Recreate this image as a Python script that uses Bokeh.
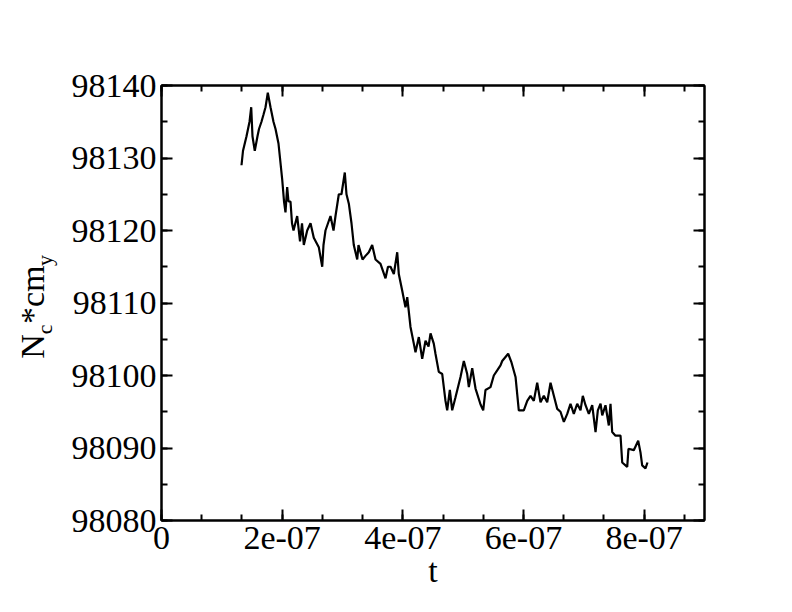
from bokeh.plotting import figure
from bokeh.layouts import row
from bokeh.models import Range1d, LinearAxis, SingleIntervalTicker, CustomJSTickFormatter
from bokeh.core.properties import value
from bokeh.embed import file_html
from bokeh.resources import INLINE

# ---- data ----
t = [1.326e-07, 1.351e-07, 1.409e-07, 1.459e-07, 1.487e-07, 1.508e-07, 1.546e-07, 1.591e-07, 1.616e-07, 1.657e-07,
     1.691e-07, 1.724e-07, 1.762e-07, 1.807e-07, 1.856e-07, 1.890e-07, 1.939e-07, 1.964e-07, 2.001e-07, 2.031e-07,
     2.055e-07, 2.083e-07, 2.105e-07, 2.138e-07, 2.163e-07, 2.188e-07, 2.249e-07, 2.296e-07, 2.329e-07, 2.359e-07,
     2.415e-07, 2.470e-07, 2.524e-07, 2.607e-07, 2.664e-07, 2.685e-07, 2.718e-07, 2.801e-07, 2.851e-07, 2.884e-07,
     2.939e-07, 2.983e-07, 3.038e-07, 3.066e-07, 3.105e-07, 3.149e-07, 3.187e-07, 3.244e-07, 3.265e-07, 3.332e-07,
     3.381e-07, 3.436e-07, 3.492e-07, 3.547e-07, 3.630e-07, 3.713e-07, 3.754e-07, 3.796e-07, 3.851e-07, 3.907e-07,
     3.933e-07, 3.990e-07, 4.044e-07, 4.073e-07, 4.127e-07, 4.182e-07, 4.210e-07, 4.265e-07, 4.321e-07, 4.376e-07,
     4.426e-07, 4.459e-07, 4.513e-07, 4.541e-07, 4.596e-07, 4.653e-07, 4.707e-07, 4.735e-07, 4.779e-07, 4.818e-07,
     4.873e-07, 4.956e-07, 5.011e-07, 5.067e-07, 5.094e-07, 5.150e-07, 5.205e-07, 5.288e-07, 5.332e-07, 5.370e-07,
     5.453e-07, 5.508e-07, 5.564e-07, 5.619e-07, 5.647e-07, 5.746e-07, 5.801e-07, 5.868e-07, 5.922e-07, 6.005e-07,
     6.062e-07, 6.116e-07, 6.171e-07, 6.227e-07, 6.282e-07, 6.337e-07, 6.393e-07, 6.448e-07, 6.503e-07, 6.559e-07,
     6.613e-07, 6.669e-07, 6.725e-07, 6.779e-07, 6.834e-07, 6.890e-07, 6.945e-07, 6.983e-07, 7.028e-07, 7.083e-07,
     7.139e-07, 7.194e-07, 7.232e-07, 7.277e-07, 7.305e-07, 7.359e-07, 7.414e-07, 7.442e-07, 7.470e-07, 7.525e-07,
     7.608e-07, 7.636e-07, 7.719e-07, 7.740e-07, 7.828e-07, 7.901e-07, 7.939e-07, 7.967e-07, 8.022e-07, 8.055e-07]

nc_cmy = [98129, 98131, 98133, 98135, 98137, 98133, 98131, 98133, 98134, 98135,
          98136, 98137, 98139, 98137, 98135, 98134, 98132, 98130, 98127, 98124,
          98122.5, 98126, 98124, 98124, 98121, 98120, 98122, 98118.5, 98121, 98118,
          98120, 98121, 98119, 98117.7, 98115, 98118, 98120, 98122, 98120, 98122,
          98125, 98125, 98128, 98125, 98123.7, 98121, 98118, 98116, 98118, 98116,
          98116.5, 98117, 98118, 98116, 98115.4, 98113.4, 98115, 98115, 98114, 98117,
          98114, 98111.7, 98109.4, 98110.8, 98106.7, 98104.4, 98103.2, 98105.3, 98102.3, 98104.8,
          98104, 98105.8, 98104.4, 98103, 98100.5, 98100.2, 98096.5, 98095.2, 98098, 98095.2,
          98097, 98099.8, 98102, 98100.2, 98098.4, 98101, 98098.2, 98096, 98095.2, 98098,
          98098.4, 98100, 98100.7, 98101.4, 98102, 98103, 98101.8, 98099.8, 98095.2, 98095.2,
          98096.5, 98097.2, 98096.5, 98099, 98096.3, 98097.2, 98096.3, 98099, 98097.2, 98095.4,
          98095, 98093.6, 98094.7, 98096.1, 98094.7, 98096.1, 98095.2, 98097.2, 98095.9, 98094.7,
          98095.9, 98092.2, 98095.2, 98096.1, 98094.5, 98095.9, 98093.1, 98096.1, 98092.2, 98091.7,
          98091.7, 98088, 98087.4, 98089.9, 98089.7, 98091, 98089.4, 98087.6, 98087.2, 98088]

x_label = "t"
y_label_parts = ["N", "c", "*cm", "y"]

FONT = "Liberation Serif"
H = 604
LABEL_W = 60

p = figure(width=784 - LABEL_W, height=H, output_backend="svg", toolbar_location=None,
           x_range=Range1d(0, 9e-07), y_range=Range1d(98080, 98140),
           min_border_left=161 - LABEL_W, min_border_right=80, min_border_top=85, min_border_bottom=84,
           x_axis_type=None, y_axis_type=None)
p.grid.visible = False
p.outline_line_color = "black"
p.outline_line_width = 2
p.background_fill_color = "white"
p.border_fill_color = "white"

xfmt = CustomJSTickFormatter(code="""
if (Math.abs(tick) < 1e-12) return '0';
let s = tick.toExponential(0);
return s.replace(/e([+-])(\\d)$/, 'e$10$2');
""")


def style(ax, show_labels):
    ax.axis_line_width = 2
    ax.axis_line_color = "black"
    ax.major_tick_in = 11
    ax.major_tick_out = 0
    ax.minor_tick_in = 6
    ax.minor_tick_out = 0
    ax.major_tick_line_width = 2
    ax.minor_tick_line_width = 2
    ax.major_tick_line_color = "black"
    ax.minor_tick_line_color = "black"
    ax.major_label_text_font = FONT
    ax.major_label_text_font_size = "34px" if show_labels else "0px"
    ax.major_label_text_color = "black" if show_labels else None
    ax.axis_label_text_font = FONT
    ax.axis_label_text_font_size = "34px"
    ax.axis_label_text_font_style = "normal"
    ax.axis_label_text_color = "black"


def make_xaxis(show_labels):
    ax = LinearAxis(ticker=SingleIntervalTicker(interval=2e-07, num_minor_ticks=3), formatter=xfmt)
    style(ax, show_labels)
    ax.major_label_standoff = 6
    return ax


def make_yaxis(show_labels):
    ax = LinearAxis(ticker=SingleIntervalTicker(interval=10, num_minor_ticks=2))
    style(ax, show_labels)
    ax.major_label_standoff = 5
    return ax


xb = make_xaxis(True)
xb.axis_label = x_label
xb.axis_label_standoff = 0
p.add_layout(xb, "below")
p.add_layout(make_xaxis(False), "above")
p.add_layout(make_yaxis(True), "left")
p.add_layout(make_yaxis(False), "right")

p.line(t, nc_cmy, line_color="black", line_width=2.2)

# ---- y-axis title with subscripts, drawn in a narrow side panel sharing the y range ----
yl = figure(width=LABEL_W, height=H, output_backend="svg", toolbar_location=None,
            x_range=Range1d(0, LABEL_W), y_range=p.y_range,
            min_border=0, x_axis_type=None, y_axis_type=None)
yl.grid.visible = False
yl.outline_line_color = None
yl.background_fill_color = "white"
yl.border_fill_color = "white"

main_x = [32, 32]
main_y = [98102.3, 98107.1]
sub_x = [44, 44]
sub_y = [98105.7, 98115.1]
yl.text(x=main_x, y=main_y, text=[y_label_parts[0], y_label_parts[2]], angle=1.5707963267948966,
        text_font=value(FONT), text_font_size="34px", text_color="black",
        text_align="left", text_baseline="alphabetic")
yl.text(x=sub_x, y=sub_y, text=[y_label_parts[1], y_label_parts[3]], angle=1.5707963267948966,
        text_font=value(FONT), text_font_size="22px", text_color="black",
        text_align="left", text_baseline="alphabetic")

layout = row(yl, p, spacing=0)
open("out.html", "w").write(file_html(layout, INLINE))
